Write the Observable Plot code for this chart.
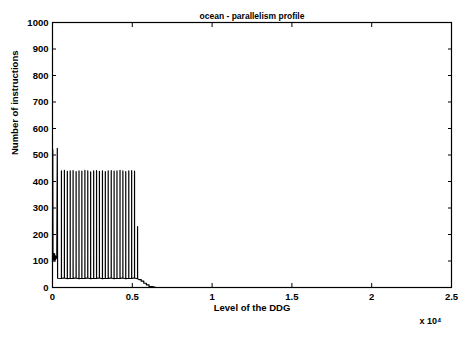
<!DOCTYPE html>
<html>
<head>
<meta charset="utf-8">
<script src="https://cdn.jsdelivr.net/npm/d3@7"></script>
<script src="https://cdn.jsdelivr.net/npm/@observablehq/plot@0.6"></script>
<style>
  html, body { margin: 0; padding: 0; background: #fff; }
  #chart svg { display: block; }
</style>
</head>
<body>
<div id="chart"></div>
<script>
// Start-up phase of the DDG: levels and instruction counts
const startLevels = [0, 15, 30, 50, 70, 90, 110, 130, 150, 170, 190, 210, 240, 270, 300, 320];
const startCounts = [95, 520, 110, 130, 105, 125, 100, 128, 110, 120, 105, 118, 110, 120, 525, 35];

// Periodic bursts of parallelism: level of each peak and its height
const spikeLevels = [560, 745, 930, 1110, 1290, 1480, 1660, 1840, 2030, 2210, 2390, 2580, 2760,
                     2940, 3130, 3310, 3490, 3680, 3860, 4040, 4230, 4410, 4590, 4780, 4960, 5140, 5330];
const spikeCounts = [440, 442, 438, 440, 441, 437, 440, 439, 442, 440, 436, 440, 441,
                     438, 440, 437, 440, 441, 439, 440, 442, 440, 437, 440, 441, 439, 230];
// Floor between consecutive bursts
const floorCounts = [34, 36, 33, 35, 34, 36, 33, 35, 34, 36, 33, 35, 34,
                     36, 33, 35, 34, 36, 33, 35, 34, 36, 33, 35, 34, 36, 33];

// Tail of the profile as the DDG drains
const tailLevels = [5420, 5560, 5560, 5720, 5720, 5880, 5880, 6050, 6050, 6250, 6500];
const tailCounts = [30, 30, 24, 24, 16, 16, 10, 10, 3, 3, 0];

const xTicks = [0, 5000, 10000, 15000, 20000, 25000];
const yTicks = [0, 100, 200, 300, 400, 500, 600, 700, 800, 900, 1000];

// Assemble the trace: each burst rises from the floor and falls straight back
const profile = startLevels.map((l, i) => ({level: l, count: startCounts[i]}));
spikeLevels.forEach((l, i) => {
  profile.push({level: l - 1, count: floorCounts[i]});
  profile.push({level: l, count: spikeCounts[i]});
  profile.push({level: l + 1, count: floorCounts[i]});
});
tailLevels.forEach((l, i) => profile.push({level: l, count: tailCounts[i]}));

const font = "'Liberation Sans', Arial, sans-serif";

const chart = Plot.plot({
  width: 465,
  height: 338,
  marginLeft: 52,
  marginRight: 14,
  marginTop: 22,
  marginBottom: 51,
  style: {fontFamily: font, fontSize: "9.5px", color: "#000", background: "#fff"},
  x: {domain: [0, 25000]},
  y: {domain: [0, 1000]},
  marks: [
    Plot.frame({stroke: "#000", strokeWidth: 1.2}),
    Plot.axisY(yTicks, {anchor: "left", tickSize: -4, tickPadding: 8, label: null, tickFormat: d => String(d), fontWeight: "bold"}),
    Plot.axisY(yTicks, {anchor: "right", tickSize: -4, label: null, tickFormat: () => ""}),
    Plot.axisX(xTicks, {anchor: "bottom", tickSize: -4, tickPadding: 10, label: null, tickFormat: d => String(d / 10000), fontWeight: "bold"}),
    Plot.axisX(xTicks, {anchor: "top", tickSize: -4, label: null, tickFormat: () => ""}),
    Plot.line(profile, {x: "level", y: "count", stroke: "#000", strokeWidth: 1.2}),
    Plot.text(["ocean - parallelism profile"], {frameAnchor: "top", dy: -10, fontSize: 8.5, fontWeight: "bold"}),
    Plot.text(["Level of the DDG"], {frameAnchor: "bottom", dy: 23, fontSize: 9.5, fontWeight: "bold"}),
    Plot.text(["Number of instructions"], {frameAnchor: "left", rotate: -90, dx: -38, fontSize: 9.5, fontWeight: "bold"}),
    Plot.text(["x 10⁴"], {frameAnchor: "bottom-right", textAnchor: "end", dx: -10, dy: 36, fontSize: 9, fontWeight: "bold"})
  ]
});

document.getElementById("chart").appendChild(chart);
</script>
</body>
</html>
